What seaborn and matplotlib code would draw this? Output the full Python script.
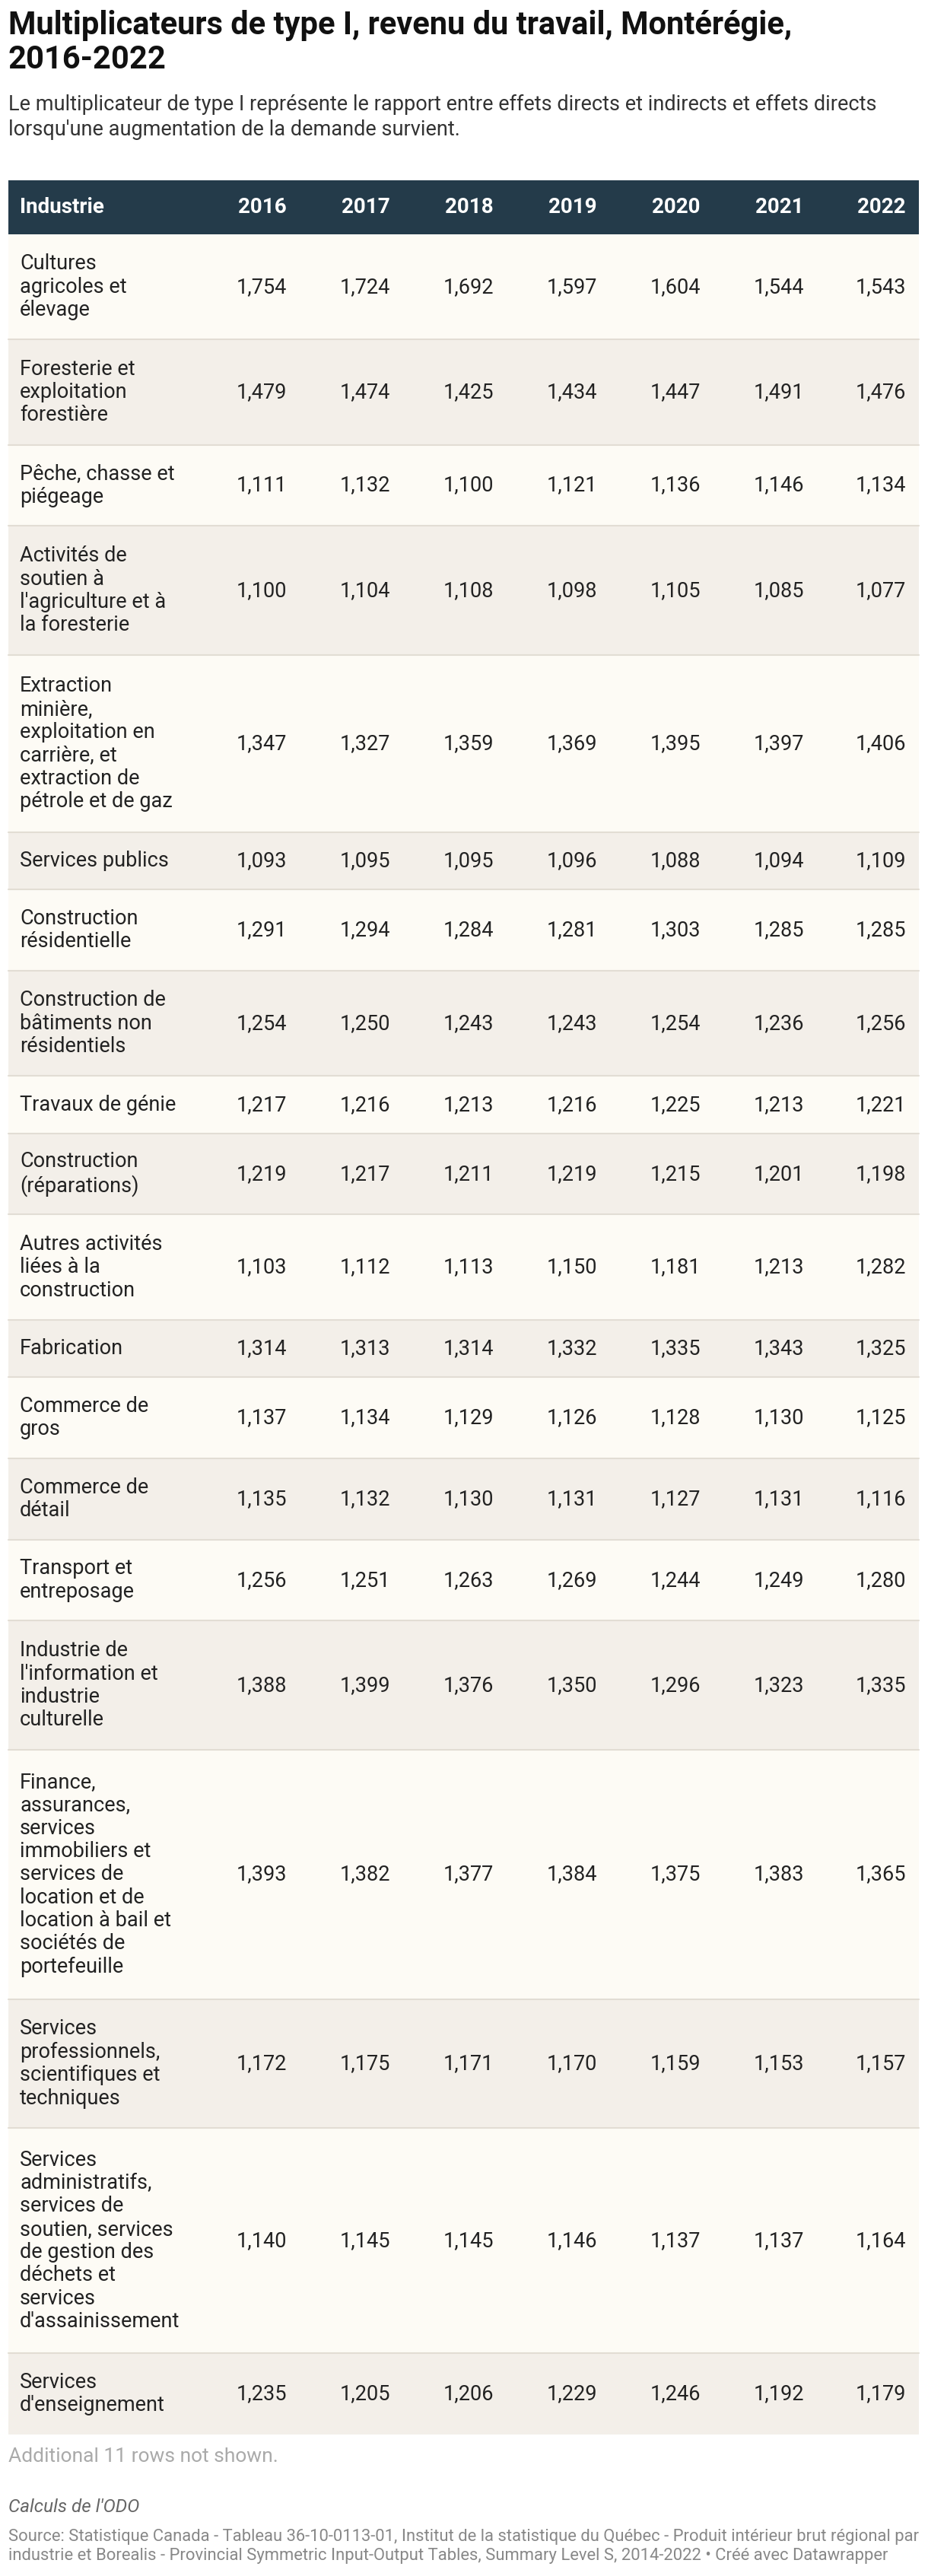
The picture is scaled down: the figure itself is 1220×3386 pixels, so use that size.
import matplotlib
matplotlib.use("Agg")
import matplotlib.pyplot as plt
import seaborn as sns
import pandas as pd

# --- data ---
years = ["2016", "2017", "2018", "2019", "2020", "2021", "2022"]
industries = [
    "Cultures\nagricoles et\nélevage",
    "Foresterie et\nexploitation\nforestière",
    "Pêche, chasse et\npiégeage",
    "Activités de\nsoutien à\nl'agriculture et à\nla foresterie",
    "Extraction\nminière,\nexploitation en\ncarrière, et\nextraction de\npétrole et de gaz",
    "Services publics",
    "Construction\nrésidentielle",
    "Construction de\nbâtiments non\nrésidentiels",
    "Travaux de génie",
    "Construction\n(réparations)",
    "Autres activités\nliées à la\nconstruction",
    "Fabrication",
    "Commerce de\ngros",
    "Commerce de\ndétail",
    "Transport et\nentreposage",
    "Industrie de\nl'information et\nindustrie\nculturelle",
    "Finance,\nassurances,\nservices\nimmobiliers et\nservices de\nlocation et de\nlocation à bail et\nsociétés de\nportefeuille",
    "Services\nprofessionnels,\nscientifiques et\ntechniques",
    "Services\nadministratifs,\nservices de\nsoutien, services\nde gestion des\ndéchets et\nservices\nd'assainissement",
    "Services\nd'enseignement",
]
values = [
    [1.754, 1.724, 1.692, 1.597, 1.604, 1.544, 1.543],
    [1.479, 1.474, 1.425, 1.434, 1.447, 1.491, 1.476],
    [1.111, 1.132, 1.100, 1.121, 1.136, 1.146, 1.134],
    [1.100, 1.104, 1.108, 1.098, 1.105, 1.085, 1.077],
    [1.347, 1.327, 1.359, 1.369, 1.395, 1.397, 1.406],
    [1.093, 1.095, 1.095, 1.096, 1.088, 1.094, 1.109],
    [1.291, 1.294, 1.284, 1.281, 1.303, 1.285, 1.285],
    [1.254, 1.250, 1.243, 1.243, 1.254, 1.236, 1.256],
    [1.217, 1.216, 1.213, 1.216, 1.225, 1.213, 1.221],
    [1.219, 1.217, 1.211, 1.219, 1.215, 1.201, 1.198],
    [1.103, 1.112, 1.113, 1.150, 1.181, 1.213, 1.282],
    [1.314, 1.313, 1.314, 1.332, 1.335, 1.343, 1.325],
    [1.137, 1.134, 1.129, 1.126, 1.128, 1.130, 1.125],
    [1.135, 1.132, 1.130, 1.131, 1.127, 1.131, 1.116],
    [1.256, 1.251, 1.263, 1.269, 1.244, 1.249, 1.280],
    [1.388, 1.399, 1.376, 1.350, 1.296, 1.323, 1.335],
    [1.393, 1.382, 1.377, 1.384, 1.375, 1.383, 1.365],
    [1.172, 1.175, 1.171, 1.170, 1.159, 1.153, 1.157],
    [1.140, 1.145, 1.145, 1.146, 1.137, 1.137, 1.164],
    [1.235, 1.205, 1.206, 1.229, 1.246, 1.192, 1.179],
]

df = pd.DataFrame(values, columns=years)
df.insert(0, "Industrie", industries)

# --- layout (pixel coords) ---
W, H = 1220, 3386
LINE_H = 31.5
PAD = 43.8
TABLE_L, TABLE_R = 11, 1208
HEAD_TOP, HEAD_BOT = 237, 308
col_right = [377, 513, 649, 785, 921, 1057, 1191]
FONT = "Roboto"
TXT = "#222222"

sns.set_theme(style="white")
plt.rcParams["font.family"] = [FONT, "DejaVu Sans"]

fig = plt.figure(figsize=(W / 100, H / 100), dpi=100)
ax = fig.add_axes([0, 0, 1, 1])
ax.set_xlim(0, W)
ax.set_ylim(H, 0)
ax.axis("off")

# title and description
ax.text(11, 13, "Multiplicateurs de type I, revenu du travail, Montérégie,\n2016-2022",
        fontsize=30, fontweight="bold", va="top", ha="left", color="#111111", linespacing=1.12)
ax.text(11, 124, "Le multiplicateur de type I représente le rapport entre effets directs et indirects et effets directs\n"
        "lorsqu'une augmentation de la demande survient.",
        fontsize=19.5, va="top", ha="left", color="#333333", linespacing=1.3)

# header
ax.barh((HEAD_TOP + HEAD_BOT) / 2, TABLE_R - TABLE_L, height=HEAD_BOT - HEAD_TOP,
        left=TABLE_L, color="#243b4a", edgecolor="none")
hy = (HEAD_TOP + HEAD_BOT) / 2
ax.text(26, hy, "Industrie", color="white", fontsize=20, fontweight="bold", va="center", ha="left")
for x, yr in zip(col_right, years):
    ax.text(x, hy, yr, color="white", fontsize=20, fontweight="bold", va="center", ha="right")

# rows
y = HEAD_BOT
for i, row in df.iterrows():
    n = row["Industrie"].count("\n") + 1
    h = PAD + LINE_H * n
    bg = "#fdfbf5" if i % 2 == 0 else "#f3efe9"
    ax.barh(y + h / 2, TABLE_R - TABLE_L, height=h, left=TABLE_L, color=bg, edgecolor="none")
    if i > 0:
        ax.plot([TABLE_L, TABLE_R], [y, y], color="#e2ddd4", lw=1.5)
    cy = y + h / 2
    ax.text(26, cy, row["Industrie"], fontsize=19.5, va="center", ha="left",
            color=TXT, linespacing=1.16)
    for x, yr in zip(col_right, years):
        ax.text(x, cy, f"{row[yr]:.3f}".replace(".", ","), fontsize=19.5,
                va="center", ha="right", color=TXT)
    y += h

# footer
ax.text(11, 3229, "Additional 11 rows not shown.", fontsize=19, color="#aaaaaa", va="center", ha="left")
ax.text(11, 3296, "Calculs de l'ODO", fontsize=17.5, style="italic", color="#666666", va="center", ha="left")
ax.text(11, 3347, "Source: Statistique Canada - Tableau 36-10-0113-01, Institut de la statistique du Québec - Produit intérieur brut régional par\n"
        "industrie et Borealis - Provincial Symmetric Input-Output Tables, Summary Level S, 2014-2022 • Créé avec Datawrapper",
        fontsize=15.8, color="#888888", va="center", ha="left", linespacing=1.3)

fig.savefig("out.png", dpi=100, facecolor="white")
